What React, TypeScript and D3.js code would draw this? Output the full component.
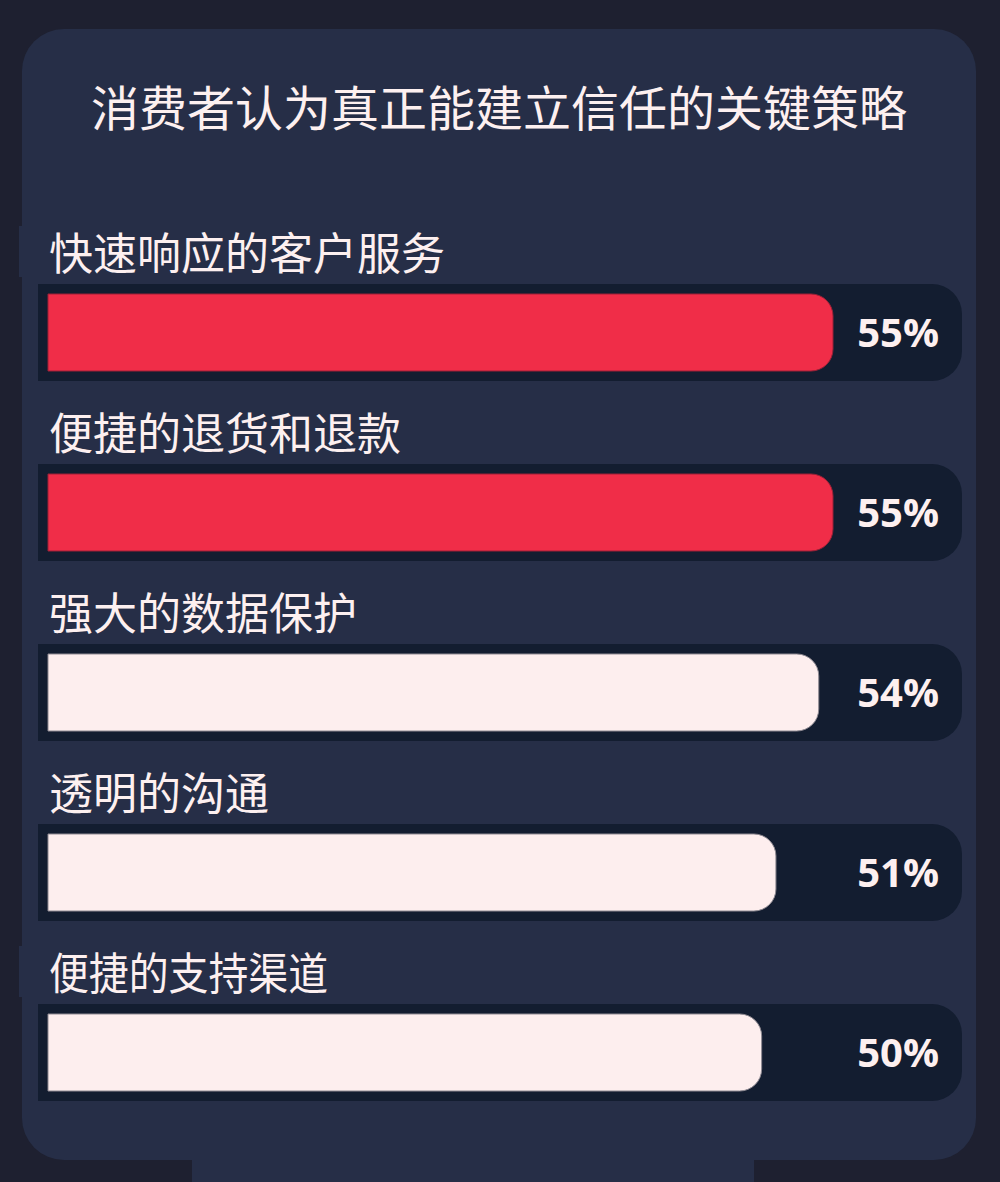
import React from 'react';
import * as d3 from 'd3';

const title = '消费者认为真正能建立信任的关键策略';
const categories = ['快速响应的客户服务', '便捷的退货和退款', '强大的数据保护', '透明的沟通', '便捷的支持渠道'];
const values = [55, 55, 54, 51, 50];
const highlighted = [true, true, false, false, false];

const colors = {
  page: '#1e2030',
  card: '#262e47',
  track: '#131d30',
  red: '#f02d48',
  light: '#fdeeee',
  text: '#fdf0f0',
};

// rectangle with square left corners and rounded right corners
const rightRounded = (x: number, y: number, w: number, h: number, r: number) => {
  const p = d3.path();
  p.moveTo(x, y);
  p.lineTo(x + w - r, y);
  p.arcTo(x + w, y, x + w, y + r, r);
  p.lineTo(x + w, y + h - r);
  p.arcTo(x + w, y + h, x + w - r, y + h, r);
  p.lineTo(x, y + h);
  p.closePath();
  return p.toString();
};

const App: React.FC = () => {
  const width = 1000;
  const height = 1182;
  const card = { x: 22, y: 29, w: 954, h: 1131, r: 42 };
  const trackX = 38;
  const trackW = 924;
  const inset = 10;

  const y = d3.scaleBand<string>()
    .domain(categories)
    .range([284, 1101])
    .paddingInner(83 / 180)
    .paddingOuter(0)
    .align(0);

  const x = d3.scaleLinear().domain([0, 100]).range([0, 1427.3]);

  const band = y.bandwidth();
  const cjk = '"Noto Sans CJK SC", "Noto Sans", sans-serif';

  return (
    <div style={{ width, height, background: colors.page }}>
      <style>{`html, body { margin: 0; padding: 0; background: ${colors.page}; overflow: hidden; }`}</style>
      <svg width={width} height={height} style={{ display: 'block' }}>
        <rect x={0} y={0} width={width} height={height} fill={colors.page} />
        <rect x={card.x} y={card.y} width={card.w} height={card.h} rx={card.r} ry={card.r} fill={colors.card} />
        <rect x={192} y={card.y + card.h - 40} width={562} height={height - (card.y + card.h - 40)} fill={colors.card} />

        <text
          x={card.x + card.w / 2}
          y={126}
          textAnchor="middle"
          fontFamily={cjk}
          fontSize={48}
          fill={colors.text}
        >
          {title}
        </text>

        {categories.map((c, i) => {
          const top = y(c) || 0;
          const barW = x(values[i]);
          return (
            <g key={c}>
              {(i === 0 || i === categories.length - 1) && (
                <rect x={19} y={top - 58} width={60} height={51} fill={colors.card} />
              )}
              <text
                x={49}
                y={top - 14}
                fontFamily={cjk}
                fontSize={44}
                fill={colors.text}
                textLength={i === categories.length - 1 ? 279 : undefined}
                lengthAdjust="spacingAndGlyphs"
              >
                {c}
              </text>
              <path d={rightRounded(trackX, top, trackW, band, 30)} fill={colors.track} />
              <path
                d={rightRounded(trackX + inset, top + inset, barW, band - inset * 2, 22)}
                fill={highlighted[i] ? colors.red : colors.light}
                stroke={highlighted[i] ? '#9c2136' : '#8f8a92'}
                strokeWidth={1}
              />
              <text
                x={939}
                y={top + band / 2 + 14}
                textAnchor="end"
                fontFamily='"Open Sans", sans-serif'
                fontWeight={700}
                fontSize={40}
                fill={colors.text}
              >
                {values[i]}%
              </text>
            </g>
          );
        })}
      </svg>
    </div>
  );
};

export default App;
